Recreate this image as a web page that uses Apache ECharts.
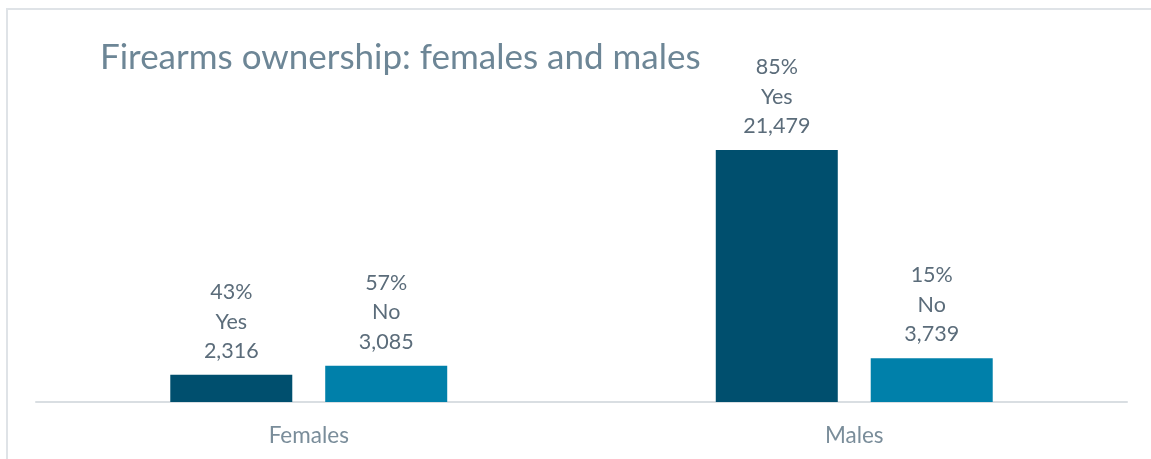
<!DOCTYPE html>
<html>
<head>
<meta charset="utf-8">
<script src="https://cdn.jsdelivr.net/npm/echarts@6/dist/echarts.min.js"></script>
<style>
  html, body { margin: 0; padding: 0; background: #ffffff; }
  #chart { width: 1151px; height: 459px; }
</style>
</head>
<body>
<div id="chart"></div>
<script>
// Survey counts by sex and firearm ownership answer
const categories = ['Females', 'Males'];
const yesCounts = [2316, 21479];
const noCounts = [3085, 3739];
const yesShare = [43, 85];
const noShare = [57, 15];
const seriesNames = ['Yes', 'No'];

const fmt = n => n.toLocaleString('en-US');
const FONT = 'Lato';

function labelFor(shares, name) {
  return {
    show: true,
    position: 'top',
    distance: 9,
    fontFamily: FONT,
    fontSize: 21.5,
    lineHeight: 29.5,
    color: '#5b6c7a',
    formatter: p => shares[p.dataIndex] + '%\n' + name + '\n' + fmt(p.value)
  };
}

const chart = echarts.init(document.getElementById('chart'), null, { renderer: 'canvas' });
chart.setOption({
  animation: false,
  backgroundColor: '#ffffff',
  title: {
    text: 'Firearms ownership: females and males',
    left: 95,
    top: 35,
    textStyle: { fontFamily: FONT, fontSize: 35, fontWeight: 'normal', color: '#6d8696' }
  },
  graphic: [{
    type: 'rect',
    shape: { x: 7, y: 9, width: 1300, height: 600 },
    style: { fill: 'none', stroke: '#dfe3e7', lineWidth: 2 },
    silent: true,
    z: -1
  }],
  grid: { left: 36, right: 24, top: 50, bottom: 57 },
  xAxis: {
    type: 'category',
    data: categories,
    axisLine: { lineStyle: { color: '#d9dee2', width: 2 } },
    axisTick: { show: false },
    axisLabel: { fontFamily: FONT, fontSize: 22.5, color: '#7a8d9a', margin: 22 }
  },
  yAxis: {
    type: 'value',
    min: 0,
    max: 30000,
    show: false,
    splitLine: { show: false }
  },
  series: [
    {
      name: seriesNames[0],
      type: 'bar',
      data: yesCounts,
      barWidth: 122,
      barGap: '27%',
      itemStyle: { color: '#004f6e' },
      label: labelFor(yesShare, seriesNames[0])
    },
    {
      name: seriesNames[1],
      type: 'bar',
      data: noCounts,
      barWidth: 122,
      barGap: '27%',
      itemStyle: { color: '#0080aa' },
      label: labelFor(noShare, seriesNames[1])
    }
  ]
});
</script>
</body>
</html>
